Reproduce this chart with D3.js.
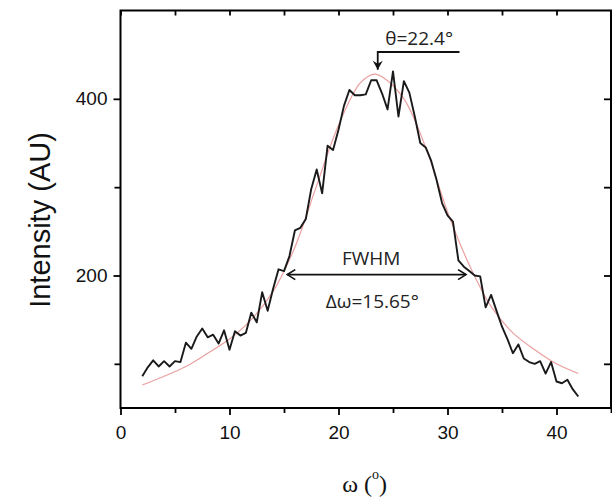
<!doctype html>
<html>
<head>
<meta charset="utf-8">
<script src="https://d3js.org/d3.v7.min.js"></script>
<style>
body { margin: 0; background: #fff; }
</style>
</head>
<body>
<div id="chart"></div>
<script>

// measured rocking curve (black)
var omega = [2, 2.5, 3, 3.5, 4, 4.5, 5, 5.5, 6, 6.5, 7, 7.5, 8, 8.5, 9, 9.5, 10, 10.5, 11, 11.5,
  12, 12.5, 13, 13.5, 14, 14.5, 15, 15.5, 16, 16.5, 17, 17.5, 18, 18.5, 19, 19.5, 20, 20.5, 21, 21.5,
  22, 22.5, 23, 23.5, 24, 24.5, 25, 25.5, 26, 26.5, 27, 27.5, 28, 28.5, 29, 29.5, 30, 30.5, 31, 31.5,
  32, 32.5, 33, 33.5, 34, 34.5, 35, 35.5, 36, 36.5, 37, 37.5, 38, 38.5, 39, 39.5, 40, 40.5, 41, 41.5, 42];
var intensity = [86, 96, 104, 97, 103, 97, 103, 102, 124, 117, 131, 140, 130, 133, 123, 138, 116, 137, 132, 135,
  158, 147, 181, 160, 185, 207, 205, 222, 251, 254, 264, 298, 320, 293, 347, 342, 365, 392, 410, 404,
  404, 405, 421, 421, 406, 388, 431, 380, 420, 407, 380, 350, 345, 330, 308, 282, 268, 261, 217, 210,
  205, 200, 199, 164, 178, 160, 142, 128, 112, 122, 106, 102, 100, 103, 89, 102, 80, 78, 82, 71, 63];

// fitted peak (red)
var fitOmega = [2, 4, 6, 8, 10, 12, 14, 16, 18, 20, 22, 23.3, 24, 26, 28, 30, 32, 34, 36, 38, 40, 42];
var fitIntensity = [76, 86, 97, 112, 128, 150, 182, 232, 302, 370, 418, 428, 425, 400, 345, 272, 212, 165, 135, 116, 100, 89];

var xMajor = [0, 10, 20, 30, 40];
var xMinor = [5, 15, 25, 35, 45];
var yMajor = [200, 400];
var yMinor = [100, 300];

var width = 612, height = 500;
var mLeft = 120.5, mRight = 611, mTop = 10.5, mBottom = 408;

var x = d3.scaleLinear().domain([0, 45]).range([mLeft, mRight]);
var y = d3.scaleLinear().domain([50, 500]).range([mBottom, mTop]);

var svg = d3.select("#chart").append("svg")
  .attr("width", width)
  .attr("height", height);

var defs = svg.append("defs");
defs.append("marker")
  .attr("id", "chev")
  .attr("viewBox", "-10 -6 12 12")
  .attr("refX", 0).attr("refY", 0)
  .attr("markerWidth", 12).attr("markerHeight", 12)
  .attr("markerUnits", "userSpaceOnUse")
  .attr("orient", "auto-start-reverse")
  .append("path")
  .attr("d", "M-8,-5 L0,0 L-8,5")
  .attr("fill", "none").attr("stroke", "#111").attr("stroke-width", 1.6);
defs.append("marker")
  .attr("id", "tri")
  .attr("viewBox", "-10 -6 12 12")
  .attr("refX", 0).attr("refY", 0)
  .attr("markerWidth", 12).attr("markerHeight", 12)
  .attr("markerUnits", "userSpaceOnUse")
  .attr("orient", "auto")
  .append("path")
  .attr("d", "M-9,-5 L0,0 L-9,5 L-6,0 Z")
  .attr("fill", "#111");

// axes
function styleAxis(g) {
  g.select(".domain").remove();
  g.selectAll("line").attr("stroke", "#000").attr("stroke-width", 1.8);
  g.selectAll("text").attr("font-family", "'Liberation Sans', Arial, sans-serif")
    .attr("font-size", 19).attr("fill", "#111");
}

svg.append("g").attr("transform", "translate(0," + mBottom + ")")
  .call(d3.axisBottom(x).tickValues(xMajor).tickSize(7).tickPadding(11).tickFormat(d3.format("d")))
  .call(styleAxis);
svg.append("g").attr("transform", "translate(0," + mBottom + ")")
  .call(d3.axisBottom(x).tickValues(xMinor).tickSize(5).tickFormat(""))
  .call(styleAxis);
svg.append("g").attr("transform", "translate(0," + mTop + ")")
  .call(d3.axisBottom(x).tickValues(xMajor.concat(xMinor)).tickSize(5).tickFormat(""))
  .call(styleAxis);

svg.append("g").attr("transform", "translate(" + mLeft + ",0)")
  .call(d3.axisLeft(y).tickValues(yMajor).tickSize(7).tickPadding(6).tickFormat(d3.format("d")))
  .call(styleAxis);
svg.append("g").attr("transform", "translate(" + mLeft + ",0)")
  .call(d3.axisLeft(y).tickValues(yMinor).tickSize(6).tickFormat(""))
  .call(styleAxis);
// right side, ticks pointing inward
svg.append("g").attr("transform", "translate(" + mRight + ",0)")
  .call(d3.axisRight(y).tickValues(yMajor.concat(yMinor)).tickSize(-7).tickFormat(""))
  .call(styleAxis);

// frame
svg.append("rect")
  .attr("x", mLeft).attr("y", mTop)
  .attr("width", mRight - mLeft).attr("height", mBottom - mTop)
  .attr("fill", "none").attr("stroke", "#000").attr("stroke-width", 2);

// fit curve
var fitLine = d3.line()
  .x(function(d, i) { return x(fitOmega[i]); })
  .y(function(d) { return y(d); })
  .curve(d3.curveCatmullRom);
svg.append("path")
  .datum(fitIntensity)
  .attr("d", fitLine)
  .attr("fill", "none")
  .attr("stroke", "#e68e8e")
  .attr("stroke-width", 1.2)
  .attr("opacity", 0.85);

// data curve
var dataLine = d3.line()
  .x(function(d, i) { return x(omega[i]); })
  .y(function(d) { return y(d); });
svg.append("path")
  .datum(intensity)
  .attr("d", dataLine)
  .attr("fill", "none")
  .attr("stroke", "#1a1a1a")
  .attr("stroke-width", 1.9)
  .attr("stroke-linejoin", "round");

// annotations
var annFont = "'Open Sans', 'Noto Sans', sans-serif";

// peak position bracket
svg.append("path")
  .attr("d", "M" + x(31.1) + "," + y(453) + " H" + x(23.6) + " V" + y(433))
  .attr("fill", "none").attr("stroke", "#111").attr("stroke-width", 1.8)
  .attr("marker-end", "url(#tri)");
svg.append("text")
  .attr("x", x(27.4)).attr("y", y(461))
  .attr("text-anchor", "middle")
  .attr("font-family", annFont).attr("font-size", 19).attr("fill", "#222")
  .text("θ=22.4°");

// FWHM double arrow
svg.append("line")
  .attr("x1", x(15.3)).attr("x2", x(31.7))
  .attr("y1", y(201)).attr("y2", y(201))
  .attr("stroke", "#111").attr("stroke-width", 1.8)
  .attr("marker-start", "url(#chev)")
  .attr("marker-end", "url(#chev)");
svg.append("text")
  .attr("x", x(23.0)).attr("y", y(212))
  .attr("text-anchor", "middle")
  .attr("font-family", annFont).attr("font-size", 19).attr("fill", "#222")
  .text("FWHM");
svg.append("text")
  .attr("x", x(23.1)).attr("y", y(163))
  .attr("text-anchor", "middle")
  .attr("font-family", annFont).attr("font-size", 19).attr("fill", "#222")
  .text("Δω=15.65°");

// axis titles
svg.append("text")
  .attr("transform", "translate(50,220) rotate(-90)")
  .attr("text-anchor", "middle")
  .attr("font-family", "'Liberation Sans', Arial, sans-serif")
  .attr("font-size", 29).attr("fill", "#111")
  .text("Intensity (AU)");

var xt = svg.append("text")
  .attr("x", x(22.4)).attr("y", 492)
  .attr("text-anchor", "middle")
  .attr("font-family", "'Liberation Serif', 'Times New Roman', serif")
  .attr("font-size", 24).attr("fill", "#111");
xt.append("tspan").text("ω (");
xt.append("tspan").attr("dy", -13).attr("font-size", 14).text("o");
xt.append("tspan").attr("dy", 13).text(")");

</script>
</body>
</html>
